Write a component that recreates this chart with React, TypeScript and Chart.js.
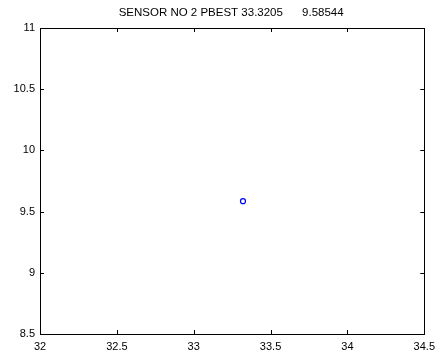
import React, { useEffect, useRef } from "react";
import { Chart, registerables } from "chart.js";

Chart.register(...registerables);

const titleMain = "SENSOR NO 2 PBEST 33.3205";
const titleSecond = "9.58544";
const pointX = [33.3205];
const pointY = [9.58544];
const xTicks = [32, 32.5, 33, 33.5, 34, 34.5];
const yTicks = [8.5, 9, 9.5, 10, 10.5, 11];

const FONT = "'Liberation Sans', Arial, Helvetica, sans-serif";

const boxPlugin = {
  id: "matlabBox",
  afterDatasetsDraw(chart: any) {
    const { ctx, chartArea } = chart;
    const { left, right, top, bottom } = chartArea;
    const xs = chart.scales.x;
    const ys = chart.scales.y;
    ctx.save();
    ctx.strokeStyle = "#000";
    ctx.lineWidth = 1;
    ctx.beginPath();
    const tl = 4;
    xTicks.forEach((v) => {
      const px = Math.round(xs.getPixelForValue(v)) + 0.5;
      ctx.moveTo(px, bottom);
      ctx.lineTo(px, bottom - tl);
      ctx.moveTo(px, top);
      ctx.lineTo(px, top + tl);
    });
    yTicks.forEach((v) => {
      const py = Math.round(ys.getPixelForValue(v)) + 0.5;
      ctx.moveTo(left, py);
      ctx.lineTo(left + tl, py);
      ctx.moveTo(right, py);
      ctx.lineTo(right - tl, py);
    });
    ctx.stroke();
    ctx.strokeRect(Math.round(left) + 0.5, Math.round(top) + 0.5, Math.round(right - left), Math.round(bottom - top));
    ctx.restore();
  },
  afterDraw(chart: any) {
    const { ctx } = chart;
    ctx.save();
    ctx.fillStyle = "#000";
    ctx.font = `11.5px ${FONT}`;
    ctx.textBaseline = "middle";
    ctx.textAlign = "left";
    const full = titleMain + "      " + titleSecond;
    const w = ctx.measureText(full).width;
    const cx = (chart.chartArea.left + chart.chartArea.right) / 2;
    ctx.fillText(full, cx - w / 2 - 1, 13);
    ctx.restore();
  },
};

export default function App() {
  const ref = useRef<HTMLCanvasElement>(null);
  useEffect(() => {
    if (!ref.current) return;
    const chart = new Chart(ref.current, {
      type: "scatter",
      data: {
        datasets: [
          {
            data: pointX.map((x, i) => ({ x, y: pointY[i] })),
            borderColor: "#0000ff",
            backgroundColor: "rgba(0,0,0,0)",
            pointStyle: "circle",
            pointRadius: 2.5,
            borderWidth: 1.2,
          },
        ],
      },
      options: {
        responsive: false,
        animation: false,
        layout: { padding: { left: 0, right: 13, top: 28, bottom: 0 } },
        plugins: { legend: { display: false }, tooltip: { enabled: false }, title: { display: false } },
        scales: {
          x: {
            type: "linear",
            min: 32,
            max: 34.5,
            afterFit: (s: any) => {
              s.height = 20;
            },
            afterBuildTicks: (s: any) => {
              s.ticks = xTicks.map((v) => ({ value: v }));
            },
            grid: { display: false, drawTicks: false },
            border: { display: false },
            ticks: {
              color: "#000",
              font: { size: 11, family: FONT },
              padding: 6,
              maxRotation: 0,
              autoSkip: false,
              callback: (v: any) => String(v),
            },
          },
          y: {
            type: "linear",
            min: 8.5,
            max: 11,
            afterFit: (s: any) => {
              s.width = 40;
            },
            afterBuildTicks: (s: any) => {
              s.ticks = yTicks.map((v) => ({ value: v }));
            },
            grid: { display: false, drawTicks: false },
            border: { display: false },
            ticks: {
              color: "#000",
              font: { size: 11, family: FONT },
              padding: 5,
              autoSkip: false,
              callback: (v: any) => String(v),
            },
          },
        },
      },
      plugins: [boxPlugin],
    } as any);
    return () => chart.destroy();
  }, []);
  return (
    <div style={{ position: "fixed", left: 0, top: 0, width: 441, height: 354, background: "#fff" }}>
      <canvas ref={ref} width={441} height={354} style={{ width: 441, height: 354, display: "block" }} />
    </div>
  );
}
